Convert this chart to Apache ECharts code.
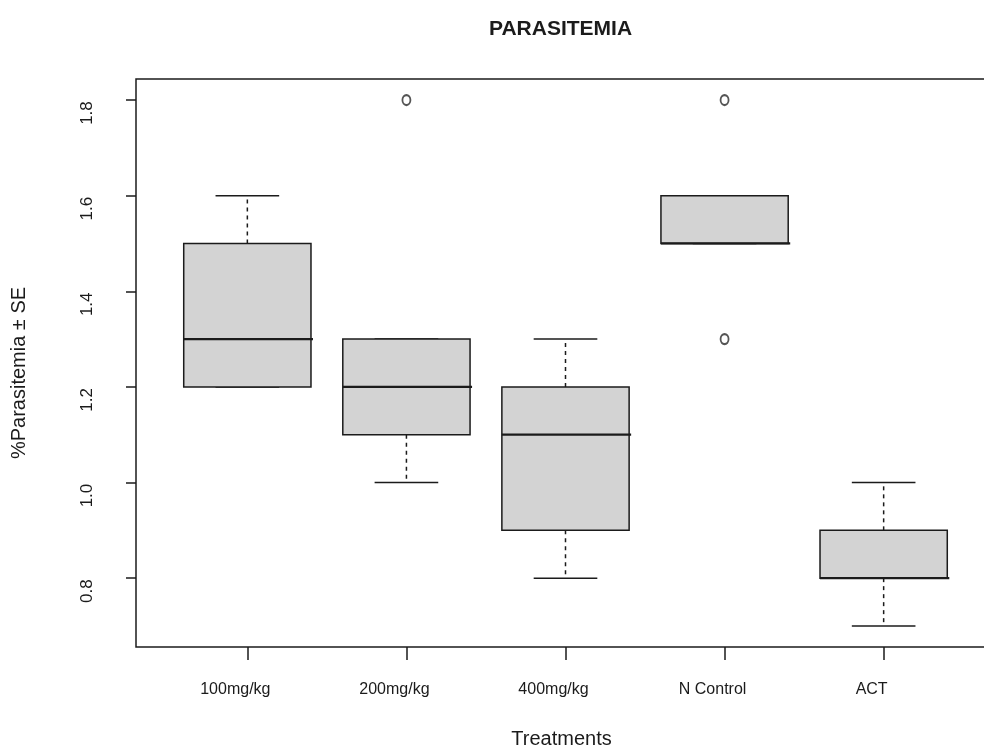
<!DOCTYPE html>
<html>
<head>
<meta charset="utf-8">
<title>PARASITEMIA</title>
<script src="https://cdn.jsdelivr.net/npm/echarts@6/dist/echarts.min.js"></script>
<style>
  html, body { margin: 0; padding: 0; background: #ffffff; overflow: hidden; }
  #chart { width: 1000px; height: 754px; }
</style>
</head>
<body>
<div id="chart"></div>
<script>
// Treatment groups and their five-number summaries (% parasitemia)
const categories   = ['100mg/kg', '200mg/kg', '400mg/kg', 'N Control', 'ACT'];
const whiskerLow   = [1.2, 1.0, 0.8, 1.5, 0.7];
const lowerQuart   = [1.2, 1.1, 0.9, 1.5, 0.8];
const medians      = [1.3, 1.2, 1.1, 1.5, 0.8];
const upperQuart   = [1.5, 1.3, 1.2, 1.6, 0.9];
const whiskerHigh  = [1.6, 1.3, 1.3, 1.6, 1.0];

// Outlying observations: group position (1-based) and value
const outlierGroup = [2, 4, 4];
const outlierValue = [1.8, 1.8, 1.3];

// Axis ticks
const yTicks = [0.8, 1.0, 1.2, 1.4, 1.6, 1.8];
const xTicks = [1, 2, 3, 4, 5];

const FONT = "'Liberation Sans', Arial, Helvetica, sans-serif";
const INK = '#1b1b1b';

const boxData = categories.map((c, i) => [
  i + 1, whiskerLow[i], lowerQuart[i], medians[i], upperQuart[i], whiskerHigh[i]
]);
const outlierData = outlierGroup.map((g, i) => [g, outlierValue[i]]);

function renderBox(params, api) {
  const x = api.value(0);
  const lo = api.value(1), q1 = api.value(2), med = api.value(3),
        q3 = api.value(4), hi = api.value(5);
  const cx = api.coord([x, med])[0];
  const yLo = api.coord([x, lo])[1];
  const yQ1 = api.coord([x, q1])[1];
  const yMed = api.coord([x, med])[1];
  const yQ3 = api.coord([x, q3])[1];
  const yHi = api.coord([x, hi])[1];
  const halfBox = api.size([0.4, 0])[0];
  const halfStaple = api.size([0.2, 0])[0];
  const solid = { stroke: INK, lineWidth: 1.5, fill: null };
  const dashed = { stroke: INK, lineWidth: 1.5, lineDash: [4, 4], fill: null };
  const children = [];
  if (yHi < yQ3) {
    children.push({ type: 'line', shape: { x1: cx, y1: yQ3, x2: cx, y2: yHi }, style: dashed });
  }
  if (yLo > yQ1) {
    children.push({ type: 'line', shape: { x1: cx, y1: yQ1, x2: cx, y2: yLo }, style: dashed });
  }
  children.push({ type: 'line', shape: { x1: cx - halfStaple, y1: yHi, x2: cx + halfStaple, y2: yHi }, style: solid });
  children.push({ type: 'line', shape: { x1: cx - halfStaple, y1: yLo, x2: cx + halfStaple, y2: yLo }, style: solid });
  children.push({
    type: 'rect',
    shape: { x: cx - halfBox, y: yQ3, width: halfBox * 2, height: yQ1 - yQ3 },
    style: { fill: '#d3d3d3', stroke: INK, lineWidth: 1.5 }
  });
  children.push({
    type: 'line',
    shape: { x1: cx - halfBox, y1: yMed, x2: cx + halfBox + 2, y2: yMed },
    style: { stroke: INK, lineWidth: 2.2 }
  });
  return { type: 'group', children: children };
}

const chart = echarts.init(document.getElementById('chart'), null, { renderer: 'canvas' });

chart.setOption({
  animation: false,
  backgroundColor: '#ffffff',
  title: {
    text: 'PARASITEMIA',
    left: 484,
    top: 14,
    textStyle: { fontFamily: FONT, fontSize: 21, fontWeight: 'bold', color: INK }
  },
  grid: {
    left: 136, top: 79, width: 859, height: 574,
    show: true, borderColor: INK, borderWidth: 1.5, backgroundColor: 'transparent'
  },
  xAxis: {
    type: 'value',
    min: 0.3,
    max: 5.7,
    name: 'Treatments',
    nameLocation: 'middle',
    nameGap: 82,
    nameTextStyle: { fontFamily: FONT, fontSize: 20, color: INK, padding: [0, 8, 0, 0] },
    axisLine: { show: false },
    splitLine: { show: false },
    axisTick: {
      show: true, customValues: xTicks, length: 13, inside: false,
      lineStyle: { color: INK, width: 1.5 }
    },
    axisLabel: {
      customValues: xTicks,
      margin: 35,
      padding: [0, 24, 0, 0],
      fontFamily: FONT, fontSize: 16, color: INK,
      formatter: (v) => categories[Math.round(v) - 1] || ''
    }
  },
  yAxis: {
    type: 'value',
    min: 0.656,
    max: 1.844,
    name: '%Parasitemia \u00b1 SE',
    nameLocation: 'middle',
    nameRotate: 90,
    nameGap: 107,
    nameTextStyle: { fontFamily: FONT, fontSize: 20, color: INK, padding: [0, 20, 0, 0] },
    axisLine: { show: false },
    splitLine: { show: false },
    axisTick: {
      show: true, customValues: yTicks, length: 10, inside: false,
      lineStyle: { color: INK, width: 1.5 }
    },
    axisLabel: {
      customValues: yTicks,
      rotate: 90,
      margin: 40,
      padding: [0, 26, 0, 0],
      fontFamily: FONT, fontSize: 17, color: INK,
      formatter: (v) => v.toFixed(1)
    }
  },
  series: [
    {
      type: 'custom',
      name: 'boxes',
      renderItem: renderBox,
      encode: { x: 0, y: [1, 2, 3, 4, 5] },
      data: boxData,
      clip: false
    },
    {
      type: 'scatter',
      name: 'outliers',
      symbol: 'emptyCircle',
      symbolSize: [8, 10],
      itemStyle: { color: '#2a2a2a', borderWidth: 1.6 },
      data: outlierData
    }
  ]
});
</script>
</body>
</html>
